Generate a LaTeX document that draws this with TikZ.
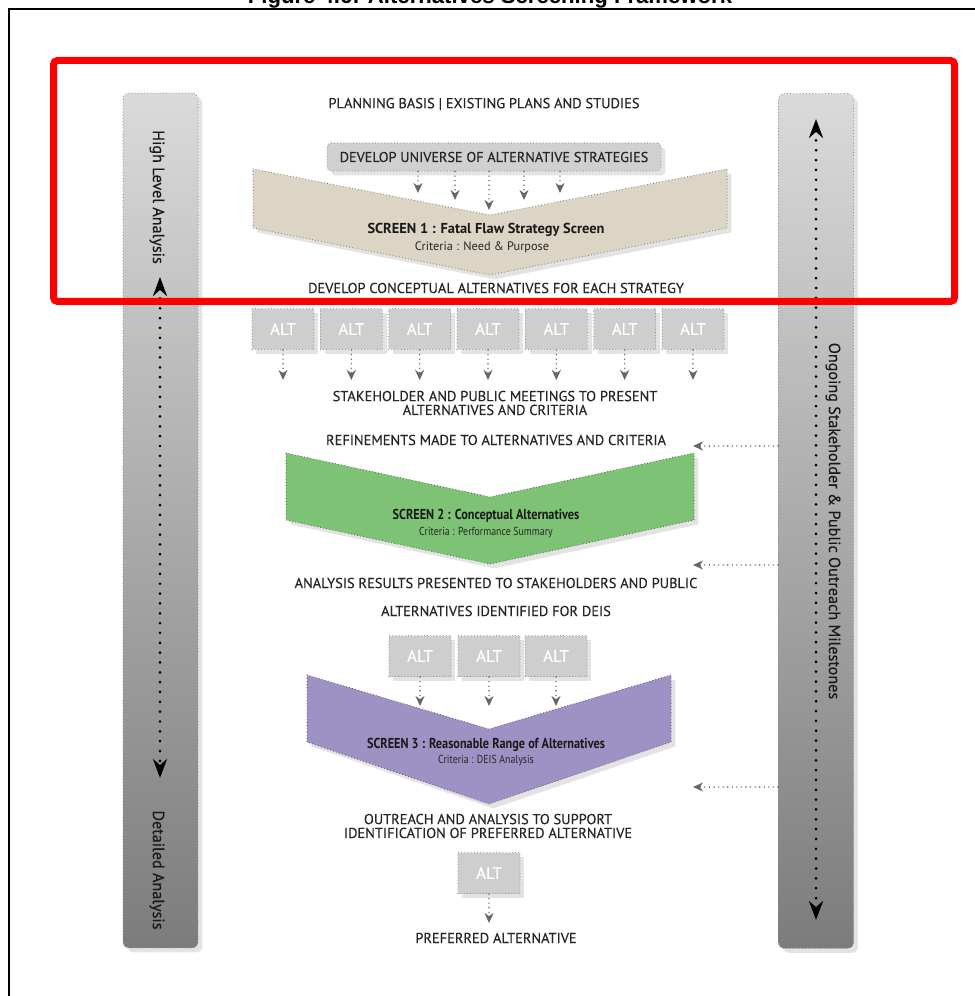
\documentclass[tikz,border=0pt]{standalone}
\usepackage{fontspec}
\setmainfont{PT Sans}
\newfontfamily\capsfont[FakeBold=0.35]{PT Sans}
\newfontfamily\narrowfont[FakeStretch=0.85]{PT Sans}
\newfontfamily\titlefont{Liberation Sans}
\usetikzlibrary{arrows.meta, positioning, shadows}
\definecolor{bartop}{RGB}{218,218,218}
\definecolor{barbot}{RGB}{124,124,124}
\definecolor{boxgray}{RGB}{208,208,208}
\definecolor{altgray}{RGB}{206,206,206}
\definecolor{screenA}{RGB}{220,213,198}
\definecolor{screenB}{RGB}{126,195,117}
\definecolor{screenC}{RGB}{158,146,196}
\definecolor{hilite}{RGB}{255,0,0}

\begin{document}
\begin{tikzpicture}[x=0.02cm, y=-0.02cm,
  softshadow/.style={drop shadow={opacity=0.22, shadow xshift=2.5pt, shadow yshift=-2.5pt}},
  dots/.style={line width=0.6pt, line cap=round, dash pattern=on 0pt off 1.8pt},
  bar/.style={rectangle, rounded corners=0.12cm, draw=black!45, dots, top color=bartop, bottom color=barbot,
    minimum width=1.5cm, minimum height=17.1cm, inner sep=0pt, softshadow},
  bartext/.style={rotate=-90, font=\capsfont\fontsize{9.2}{10}\selectfont, text=black!90},
  bararrow/.style={{Stealth[length=0.38cm, width=0.28cm]}-{Stealth[length=0.38cm, width=0.28cm]},
    line width=1.7pt, line cap=round, dash pattern=on 0pt off 5.6pt},
  univbox/.style={rectangle, rounded corners=0.08cm, draw=black!45, dots, fill=boxgray,
    minimum width=6.68cm, minimum height=0.56cm, inner sep=0pt, font=\capsfont\fontsize{8.1}{8.5}\selectfont,
    text=black!85, softshadow},
  altbox/.style={rectangle, draw=black!45, dots, fill=altgray, minimum width=1.24cm, minimum height=0.82cm,
    inner sep=0pt, text=white, font=\capsfont\fontsize{9.5}{10}\selectfont, softshadow},
  chevron/.style={draw=#1!55!black, fill=#1, dots, softshadow},
  caption/.style={font=\capsfont\fontsize{8.2}{7.9}\selectfont, text=black!85, align=center},
  screentitle/.style={font=\narrowfont\bfseries\fontsize{8.2}{9}\selectfont, text=black!90},
  criteria/.style={font=\narrowfont\fontsize{6.6}{7}\selectfont, text=black!85},
  flow/.style={-{Stealth[length=0.2cm, width=0.18cm]}, draw=black!60, line width=0.9pt, line cap=round,
    dash pattern=on 0pt off 2.6pt}
]
\useasboundingbox (0,0) rectangle (974,996);

% Frame and title
\draw[line width=0.04cm] (9,1200) -- (9,9.5) -- (1200,9.5);
\node[anchor=base, font=\titlefont\bfseries\fontsize{12.6}{14}\selectfont] (title) at (490,4)
  {Figure 4.6: Alternatives Screening Framework};

% Side bars
\node[bar] (leftbar) at (160.5,520.5) {};
\node[bar] (rightbar) at (816,521) {};
\node[bartext] (hla) at (157,197) {High Level Analysis};
\node[bartext] (dla) at (157,870) {Detailed Analysis};
\node[bartext] (ongoing) at (833,521) {Ongoing Stakeholder \& Public Outreach Milestones};

\coordinate (lup) at (160,277);
\coordinate (ldown) at (160,778);
\coordinate (rup) at (816,119);
\coordinate (rdown) at (816,920);
\draw[bararrow] (lup) -- (ldown);
\draw[bararrow] (rup) -- (rdown);

% Screen 1
\node[caption] (basis) at (484,104) {PLANNING BASIS | EXISTING PLANS AND STUDIES};
\draw[chevron=screenA] (253,169) -- (490,215) -- (727,169) -- (727,228) -- (490,275) -- (253,228) -- cycle;
\node[univbox] (univ) at (494,157) {DEVELOP UNIVERSE OF ALTERNATIVE STRATEGIES};
\foreach \i/\x/\y in {1/418/193, 2/455/200, 3/489/210, 4/524/200, 5/560/193} {
  \coordinate (sa\i) at (\x,\y);
  \draw[flow] (univ.south -| sa\i) -- (sa\i);
}
\node[screentitle, font=\bfseries\fontsize{8.2}{9}\selectfont] (sAhead) at (486,230) {SCREEN 1 : Fatal Flaw Strategy Screen};
\node[criteria, font=\fontsize{7}{8}\selectfont] (sAcrit) at (482,247) {Criteria : Need \& Purpose};
\node[caption] (concept) at (496,288) {DEVELOP CONCEPTUAL ALTERNATIVES FOR EACH STRATEGY};

% Conceptual alternatives
\foreach \i in {1,...,7} {
  \node[altbox] (alt\i) at ({283+68.33*(\i-1)},329) {ALT};
  \coordinate (ma\i) at ({283+68.33*(\i-1)},380);
  \draw[flow] (alt\i.south) -- (ma\i);
}
\node[caption] (meet) at (495,403) {STAKEHOLDER AND PUBLIC MEETINGS TO PRESENT\\ALTERNATIVES AND CRITERIA};
\node[caption] (refine) at (496,440) {REFINEMENTS MADE TO ALTERNATIVES AND CRITERIA};

% Screen 2
\draw[chevron=screenB] (286,453) -- (490,497) -- (694,453) -- (694,520) -- (490,564) -- (286,520) -- cycle;
\node[screentitle] (sBhead) at (486,516) {SCREEN 2 : Conceptual Alternatives};
\node[criteria] (sBcrit) at (486,533) {Criteria : Performance Summary};
\node[caption] (results) at (496,583) {ANALYSIS RESULTS PRESENTED TO STAKEHOLDERS AND PUBLIC};
\node[caption] (deis) at (496,611) {ALTERNATIVES IDENTIFIED FOR DEIS};

% Screen 3
\draw[chevron=screenC] (307,675) -- (489,729) -- (671,675) -- (671,742) -- (489,804) -- (307,742) -- cycle;
\foreach \i/\x in {1/420, 2/489, 3/556} {
  \node[altbox] (dalt\i) at (\x,656) {ALT};
  \coordinate (sc\i) at (\x,706);
  \draw[flow] (dalt\i.south) -- (sc\i);
}
\node[screentitle] (sChead) at (486,745) {SCREEN 3 : Reasonable Range of Alternatives};
\node[criteria] (sCcrit) at (486,761) {Criteria : DEIS Analysis};

% Preferred alternative
\node[caption] (outreach) at (488,826) {OUTREACH AND ANALYSIS TO SUPPORT\\IDENTIFICATION OF PREFERRED ALTERNATIVE};
\node[altbox] (pref) at (489,873) {ALT};
\coordinate (prefend) at (489,923);
\draw[flow] (pref.south) -- (prefend);
\node[caption] (preferred) at (496,938) {PREFERRED ALTERNATIVE};

% Outreach milestones
\foreach \y [count=\i] in {446,565,787} {
  \coordinate (fb\i) at (693,\y);
  \draw[flow] (rightbar.west |- fb\i) -- (fb\i);
}

% Highlight
\draw[hilite, line width=0.14cm, rounded corners=0.08cm] (53.5,60.5) rectangle (954.5,301.5);
\end{tikzpicture}
\end{document}
